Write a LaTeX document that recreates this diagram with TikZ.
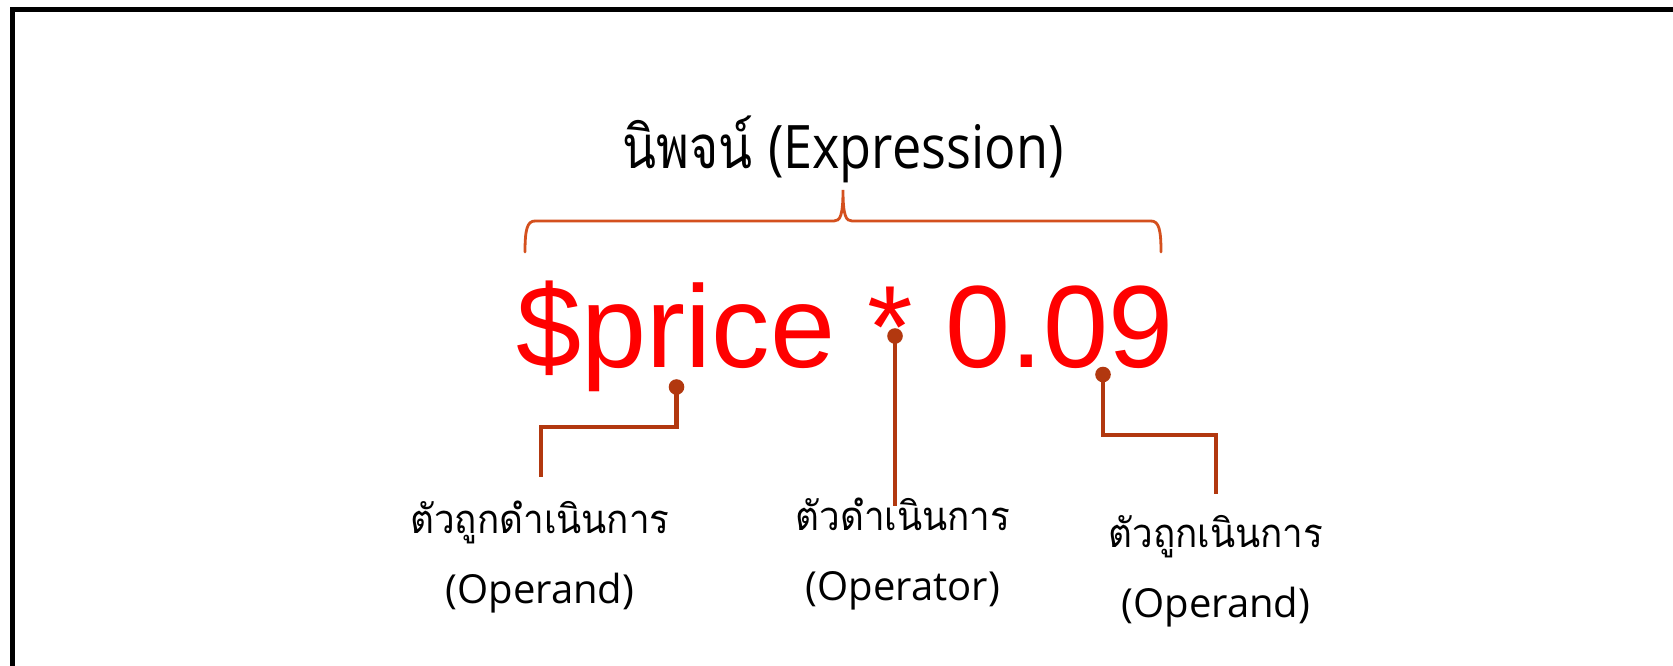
\documentclass[tikz,border=0pt]{standalone}
\usepackage{fontspec}
\setmainfont{Open Sans}
\newfontfamily\thaititle[Script=Thai,FakeStretch=0.83]{Loma}
\newfontfamily\latintitle[FakeStretch=0.87]{Open Sans}
\newfontfamily\thailbl[Script=Thai,FakeStretch=0.92]{Loma}
\newfontfamily\exprfont{Liberation Sans}
\definecolor{bracecol}{HTML}{D4501E}
\definecolor{conncol}{HTML}{B2380F}
\tikzset{
  lbl/.style={anchor=base, inner sep=0pt, text=black},
  conn/.style={draw=conncol, line width=4.5pt},
  dotc/.style={fill=conncol},
  bracestyle/.style={draw=bracecol, line width=2.8pt, line cap=round}
}
\begin{document}
\begin{tikzpicture}[x=1pt,y=-1pt]
\clip (0,0) rectangle (1673,665);
\fill[white] (0,0) rectangle (1673,665);
\draw[line width=5pt] (12.5,9.5) rectangle (1675.5,690);

% title
\node[lbl, font=\fontsize{60}{72}\selectfont] (title) at (843,168) {{\thaititle นิพจน์} {\latintitle (Expression)}};

% brace
\coordinate (brL) at (525,252);
\coordinate (brT) at (843,190);
\coordinate (brR) at (1161,252);
\draw[bracestyle] (brL) .. controls (525,230) and (527,221) .. (535,221) -- (834,221)
  .. controls (840,221) and (843,216) .. (brT)
  .. controls (843,216) and (846,221) .. (852,221) -- (1151,221)
  .. controls (1159,221) and (1161,230) .. (brR);

% expression
\node[anchor=base, inner sep=0pt, text=red, font=\exprfont\fontsize{117}{130}\selectfont] (expr) at (845,367) {\$price * 0.09};

% dots
\coordinate (d1) at (676.5,387);
\coordinate (d2) at (895,336);
\coordinate (d3) at (1103,374.5);
\coordinate (c1) at (541,427);
\coordinate (e1) at (541,477);
\coordinate (e2) at (895,506);
\coordinate (c3) at (1216,435);
\coordinate (e3) at (1216,494);
\draw[conn] (d1) |- (c1) -- (e1);
\draw[conn] (d2) -- (e2);
\draw[conn] (d3) |- (c3) -- (e3);
\fill[dotc] (d1) circle (7.8);
\fill[dotc] (d2) circle (7.8);
\fill[dotc] (d3) circle (7.8);

% labels
\node[lbl, font=\thailbl\fontsize{40}{48}\selectfont] (t1) at (540,533) {ตัวถูกดำเนินการ};
\node[lbl, font=\fontsize{40}{48}\selectfont] (o1) at (540,603) {(Operand)};
\node[lbl, font=\thailbl\fontsize{40}{48}\selectfont] (t2) at (903,530) {ตัวดำเนินการ};
\node[lbl, font=\fontsize{40}{48}\selectfont] (o2) at (903,600) {(Operator)};
\node[lbl, font=\thailbl\fontsize{40}{48}\selectfont] (t3) at (1216,547) {ตัวถูกเนินการ};
\node[lbl, font=\fontsize{40}{48}\selectfont] (o3) at (1216,617) {(Operand)};
\end{tikzpicture}
\end{document}
